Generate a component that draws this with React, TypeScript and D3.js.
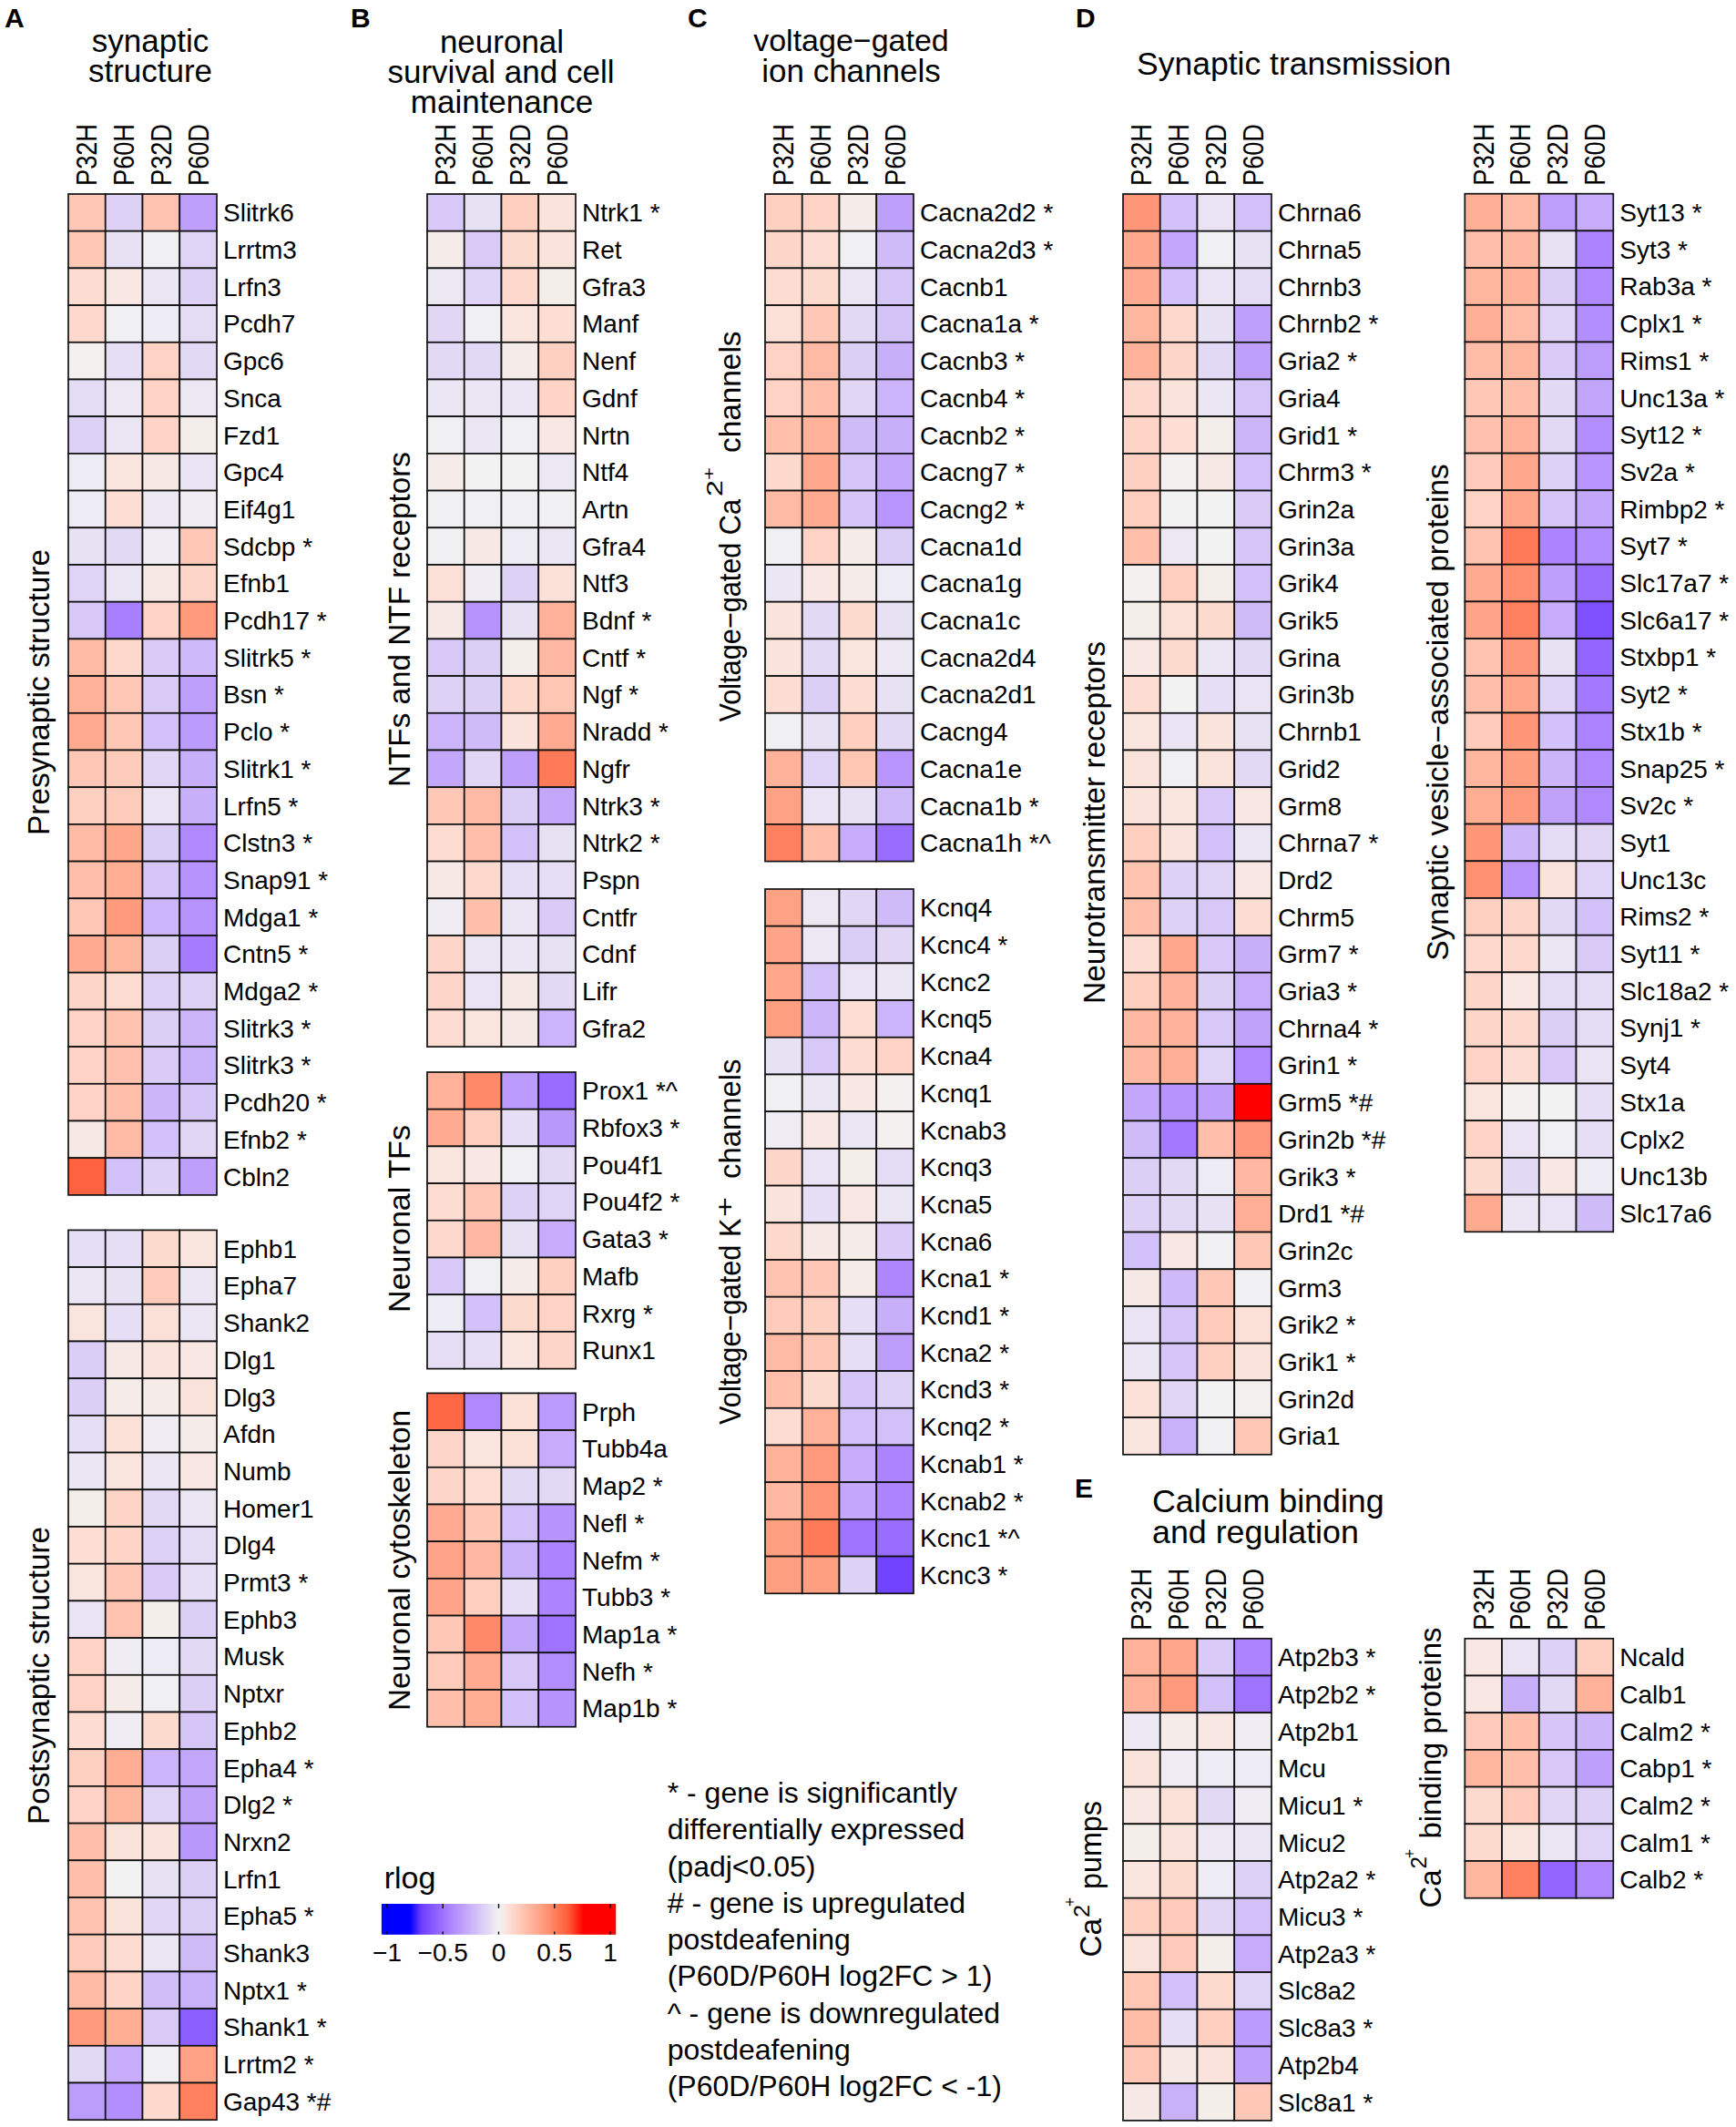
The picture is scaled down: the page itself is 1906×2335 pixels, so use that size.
import { useEffect, useRef } from 'react';
import * as d3 from 'd3';

const columns = ['P32H', 'P60H', 'P32D', 'P60D'];

const presynGenes = ['Slitrk6', 'Lrrtm3', 'Lrfn3', 'Pcdh7', 'Gpc6', 'Snca', 'Fzd1', 'Gpc4', 'Eif4g1', 'Sdcbp *', 'Efnb1', 'Pcdh17 *', 'Slitrk5 *', 'Bsn *', 'Pclo *', 'Slitrk1 *', 'Lrfn5 *', 'Clstn3 *', 'Snap91 *', 'Mdga1 *', 'Cntn5 *', 'Mdga2 *', 'Slitrk3 *', 'Slitrk3 *', 'Pcdh20 *', 'Efnb2 *', 'Cbln2'];
const presynValues = [
    [.2, -.13, .22, -.33], [.2, -.07, -.01, -.12], [.1, .05, -.05, -.13], [.12, -.01, -.03, -.09],
    [.01, -.08, .15, -.1], [-.09, -.04, .15, -.04], [-.13, -.05, .15, .02], [-.03, .06, .04, -.06],
    [-.03, .09, -.04, -.02], [-.07, -.1, -.02, .2], [-.12, -.05, .04, .13], [-.17, -.46, .15, .4],
    [.26, .12, -.16, -.23], [.3, .2, -.16, -.33], [.33, .2, -.2, -.35], [.2, .18, -.11, -.27],
    [.16, .18, -.06, -.27], [.26, .35, -.15, -.42], [.24, .32, -.18, -.38], [.2, .4, -.25, -.38],
    [.33, .28, -.14, -.47], [.13, .1, -.13, -.13], [.15, .22, -.14, -.24], [.15, .23, -.16, -.26],
    [.15, .24, -.24, -.18], [.04, .26, -.2, -.11], [.6, -.2, -.13, -.33]
];

const postsynGenes = ['Ephb1', 'Epha7', 'Shank2', 'Dlg1', 'Dlg3', 'Afdn', 'Numb', 'Homer1', 'Dlg4', 'Prmt3 *', 'Ephb3', 'Musk', 'Nptxr', 'Ephb2', 'Epha4 *', 'Dlg2 *', 'Nrxn2', 'Lrfn1', 'Epha5 *', 'Shank3', 'Nptx1 *', 'Shank1 *', 'Lrrtm2 *', 'Gap43 *#'];
const postsynValues = [
    [-.08, -.08, .11, .06], [-.05, -.07, .18, -.05], [.06, -.08, .08, -.05], [-.15, .04, .07, .05],
    [-.14, .03, .03, .07], [-.08, .08, -.02, .03], [-.05, .06, -.05, .05], [.02, .14, -.1, -.05],
    [.09, .14, -.13, -.09], [.06, .2, -.16, -.08], [-.06, .22, .02, -.14], [.15, -.02, -.03, -.1],
    [.15, .03, -.01, -.14], [.1, -.02, .11, -.18], [.16, .32, -.25, -.3], [.15, .28, -.12, -.32],
    [.24, .07, .07, -.36], [.24, 0, -.07, -.14], [.22, .07, -.11, -.14], [.18, .1, -.05, -.22],
    [.26, .14, -.21, -.26], [.4, .32, -.16, -.58], [-.1, -.28, -.01, .37], [-.34, -.4, .12, .5]
];

const ntfGenes = ['Ntrk1 *', 'Ret', 'Gfra3', 'Manf', 'Nenf', 'Gdnf', 'Nrtn', 'Ntf4', 'Artn', 'Gfra4', 'Ntf3', 'Bdnf *', 'Cntf *', 'Ngf *', 'Nradd *', 'Ngfr', 'Ntrk3 *', 'Ntrk2 *', 'Pspn', 'Cntfr', 'Cdnf', 'Lifr', 'Gfra2'];
const ntfValues = [
    [-.17, -.07, .17, .07], [.03, -.16, .11, .07], [-.04, -.12, .12, .02], [-.11, -.01, .06, .09],
    [-.1, -.1, .03, .16], [-.05, -.05, -.05, .14], [-.01, -.05, -.01, .05], [.03, 0, 0, -.04],
    [-.01, -.01, -.01, -.01], [-.01, .04, -.03, -.05], [.08, -.02, -.13, .08], [.04, -.38, -.07, .3],
    [-.17, -.14, .02, .27], [-.13, -.14, .12, .21], [-.25, -.22, .07, .33], [-.3, -.11, -.33, .52],
    [.2, .26, -.15, -.3], [.1, .24, -.2, -.07], [.04, .12, -.08, -.08], [-.02, .24, -.05, -.16],
    [.13, -.05, -.05, -.07], [.13, -.06, .04, -.1], [.1, .06, .04, -.25]
];

const tfGenes = ['Prox1 *^', 'Rbfox3 *', 'Pou4f1', 'Pou4f2 *', 'Gata3 *', 'Mafb', 'Rxrg *', 'Runx1'];
const tfValues = [
    [.3, .47, -.35, -.53], [.33, .17, -.08, -.36], [.06, .05, -.01, -.1], [.1, .2, -.13, -.12],
    [.12, .27, -.07, -.28], [-.17, -.01, .03, .16], [-.03, -.2, .11, .15], [-.08, -.08, .06, .13]
];

const cytoGenes = ['Prph', 'Tubb4a', 'Map2 *', 'Nefl *', 'Nefm *', 'Tubb3 *', 'Map1a *', 'Nefh *', 'Map1b *'];
const cytoValues = [
    [.58, -.42, .08, -.35], [.13, .06, .08, -.28], [.13, .09, -.1, -.1], [.33, .2, -.2, -.38],
    [.36, .27, -.26, -.44], [.36, .17, -.08, -.44], [.2, .47, -.3, -.5], [.18, .33, -.17, -.4],
    [.24, .32, -.2, -.38]
];

const caGenes = ['Cacna2d2 *', 'Cacna2d3 *', 'Cacnb1', 'Cacna1a *', 'Cacnb3 *', 'Cacnb4 *', 'Cacnb2 *', 'Cacng7 *', 'Cacng2 *', 'Cacna1d', 'Cacna1g', 'Cacna1c', 'Cacna2d4', 'Cacna2d1', 'Cacng4', 'Cacna1e', 'Cacna1b *', 'Cacna1h *^'];
const caValues = [
    [.16, .14, .03, -.33], [.13, .1, -.01, -.22], [.1, .11, -.05, -.18], [.08, .2, -.1, -.19],
    [.15, .26, -.14, -.27], [.15, .24, -.11, -.25], [.24, .3, -.22, -.27], [.12, .34, -.18, -.3],
    [.26, .33, -.18, -.37], [-.01, .15, .03, -.15], [-.05, .05, .03, -.03], [.07, -.1, .11, -.07],
    [.07, -.1, .06, -.04], [.1, -.14, .1, -.07], [-.01, -.07, .17, -.1], [.3, -.12, .21, -.37],
    [.37, -.06, -.07, -.23], [.5, .24, -.28, -.53]
];

const kGenes = ['Kcnq4', 'Kcnc4 *', 'Kcnc2', 'Kcnq5', 'Kcna4', 'Kcnq1', 'Kcnab3', 'Kcnq3', 'Kcna5', 'Kcna6', 'Kcna1 *', 'Kcnd1 *', 'Kcna2 *', 'Kcnd3 *', 'Kcnq2 *', 'Kcnab1 *', 'Kcnab2 *', 'Kcnc1 *^', 'Kcnc3 *'];
const kValues = [
    [.37, -.04, -.11, -.22], [.36, -.04, -.15, -.11], [.35, -.2, -.06, -.05], [.38, -.24, .09, -.25],
    [-.07, -.17, .1, .15], [-.01, -.05, .05, .01], [-.02, .05, -.05, .01], [.13, -.06, .02, -.09],
    [.07, -.08, .05, -.05], [.12, .04, .03, -.16], [.22, .2, .03, -.43], [.18, .16, -.08, -.27],
    [.26, .2, -.08, -.34], [.24, .11, -.18, -.13], [.1, .3, -.2, -.2], [.3, .4, -.28, -.44],
    [.27, .42, -.3, -.44], [.38, .52, -.5, -.53], [.38, .38, -.13, -.68]
];

const receptorGenes = ['Chrna6', 'Chrna5', 'Chrnb3', 'Chrnb2 *', 'Gria2 *', 'Gria4', 'Grid1 *', 'Chrm3 *', 'Grin2a', 'Grin3a', 'Grik4', 'Grik5', 'Grina', 'Grin3b', 'Chrnb1', 'Grid2', 'Grm8', 'Chrna7 *', 'Drd2', 'Chrm5', 'Grm7 *', 'Gria3 *', 'Chrna4 *', 'Grin1 *', 'Grm5 *#', 'Grin2b *#', 'Grik3 *', 'Drd1 *#', 'Grin2c', 'Grm3', 'Grik2 *', 'Grik1 *', 'Grin2d', 'Gria1'];
const receptorValues = [
    [.42, -.2, -.06, -.2], [.34, -.3, -.01, -.07], [.33, -.2, -.06, -.09], [.28, .12, -.07, -.33],
    [.3, .13, -.1, -.33], [.12, .07, -.05, -.18], [.14, .09, .02, -.24], [.16, .01, .04, -.2],
    [.17, 0, 0, -.16], [.24, -.04, 0, -.18], [.01, .17, .02, -.2], [.02, .08, .11, -.22],
    [.05, .11, -.05, -.1], [.1, 0, -.08, -.06], [.06, -.06, .07, -.07], [.07, -.01, .07, -.1],
    [.07, .06, -.17, .05], [.17, .07, -.2, -.05], [.22, -.13, -.12, .05], [.24, -.13, -.17, .1],
    [.1, .34, -.17, -.27], [.17, .29, -.14, -.28], [.27, .29, -.17, -.32], [.27, .31, -.12, -.42],
    [-.3, -.38, -.33, 1], [-.22, -.48, .24, .41], [-.14, -.1, -.03, .27], [-.13, -.1, -.07, .31],
    [-.2, .05, -.01, .2], [.04, -.23, .2, -.01], [-.06, -.18, .18, .08], [-.05, -.18, .16, .07],
    [.08, -.11, 0, .01], [.06, -.26, -.01, .2]
];

const vesicleGenes = ['Syt13 *', 'Syt3 *', 'Rab3a *', 'Cplx1 *', 'Rims1 *', 'Unc13a *', 'Syt12 *', 'Sv2a *', 'Rimbp2 *', 'Syt7 *', 'Slc17a7 *', 'Slc6a17 *', 'Stxbp1 *', 'Syt2 *', 'Stx1b *', 'Snap25 *', 'Sv2c *', 'Syt1', 'Unc13c', 'Rims2 *', 'Syt11 *', 'Slc18a2 *', 'Synj1 *', 'Syt4', 'Stx1a', 'Cplx2', 'Unc13b', 'Slc17a6'];
const vesicleValues = [
    [.31, .26, -.33, -.28], [.24, .27, -.07, -.44], [.28, .3, -.14, -.42], [.31, .25, -.12, -.4],
    [.25, .28, -.16, -.34], [.2, .24, -.1, -.31], [.23, .3, -.1, -.4], [.19, .34, -.13, -.37],
    [.15, .35, -.18, -.3], [.22, .52, -.44, -.4], [.33, .45, -.33, -.52], [.36, .5, -.28, -.63],
    [.22, .41, -.07, -.55], [.24, .35, -.12, -.48], [.18, .42, -.2, -.44], [.28, .38, -.24, -.42],
    [.32, .4, -.32, -.42], [.42, -.24, -.09, -.11], [.44, -.38, .07, -.12], [.16, .13, -.1, -.2],
    [.12, .12, -.05, -.16], [.13, .05, -.09, -.09], [.13, .12, -.14, -.09], [.15, .1, -.17, -.06],
    [.06, .01, 0, -.08], [.14, -.06, -.01, -.08], [.11, -.1, .05, -.03], [.33, -.05, -.06, -.22]
];

const pumpGenes = ['Atp2b3 *', 'Atp2b2 *', 'Atp2b1', 'Mcu', 'Micu1 *', 'Micu2', 'Atp2a2 *', 'Micu3 *', 'Atp2a3 *', 'Slc8a2', 'Slc8a3 *', 'Atp2b4', 'Slc8a1 *'];
const pumpValues = [
    [.3, .35, -.16, -.44], [.3, .4, -.2, -.5], [-.04, .03, .05, -.02], [.07, -.02, -.03, -.03],
    [.05, .08, -.1, -.02], [.02, .07, -.04, -.05], [.06, .11, -.03, -.13], [.17, .19, -.11, -.2],
    [.07, .19, .02, -.28], [.21, -.2, .11, -.12], [.25, -.08, .17, -.35], [.2, .04, .07, -.33],
    [.04, -.26, .02, .2]
];

const bindingGenes = ['Ncald', 'Calb1', 'Calm2 *', 'Cabp1 *', 'Calm2 *', 'Calm1 *', 'Calb2 *'];
const bindingValues = [
    [.05, -.06, -.13, .16], [.05, -.27, -.1, .3], [.19, .24, -.18, -.24], [.28, .24, -.17, -.33],
    [.11, .19, -.11, -.13], [.11, .06, -.05, -.12], [.28, .5, -.55, -.42]
];

const legendTicks = [-1, -0.5, 0, 0.5, 1];
const legendTickLabels = ['\u22121', '\u22120.5', '0', '0.5', '1'];

const notes = [
    '* - gene is significantly',
    'differentially expressed',
    '(padj<0.05)',
    '# - gene is upregulated',
    'postdeafening',
    '(P60D/P60H log2FC > 1)',
    '^ - gene is downregulated',
    'postdeafening',
    '(P60D/P60H log2FC < -1)'
];

const FONT = '"Liberation Sans", Arial, Helvetica, sans-serif';
const ROW = 40.7;

const color: any = d3.scaleLinear<string>()
    .domain([-0.8, -0.7, -0.45, 0, 0.1, 0.2, 0.45, 0.62, 0.76])
    .range(['#0000ff', '#6c3cff', '#ab82ff', '#f2f2f2', '#fddcd1', '#ffc8b6', '#ff8f6e', '#ff5c38', '#ff0000'])
    .clamp(true);

const App = () => {
    const ref = useRef<SVGSVGElement>(null);

    useEffect(() => {
        const svg: any = d3.select(ref.current);
        svg.selectAll('*').remove();

        const heatmap = (genes: string[], values: number[][], left: number, top: number, showColumns = true) => {
            const width = 163;
            const x = d3.scaleBand().domain(columns).range([left, left + width]);
            const y = d3.scaleBand().domain(genes.map((g, i) => i + '')).range([top, top + genes.length * ROW]);
            const g = svg.append('g');

            values.forEach((row, i) => {
                row.forEach((v, j) => {
                    g.append('rect')
                        .attr('x', x(columns[j]))
                        .attr('y', y(i + ''))
                        .attr('width', x.bandwidth())
                        .attr('height', y.bandwidth())
                        .attr('fill', color(v))
                        .attr('stroke', '#111')
                        .attr('stroke-width', 1.7);
                });
            });

            g.selectAll('.gene')
                .data(genes)
                .enter().append('text')
                .attr('x', left + width + 7)
                .attr('y', (d: string, i: number) => (y(i + '') as number) + y.bandwidth() / 2 + 10)
                .attr('font-size', 28)
                .text((d: string) => d);

            if (!showColumns) return;
            columns.forEach(c => {
                g.append('text')
                    .attr('transform', 'translate(' + ((x(c) as number) + x.bandwidth() / 2 + 11) + ',' + (top - 9) + ') rotate(-90)')
                    .attr('font-size', 31.5)
                    .attr('textLength', 68)
                    .attr('lengthAdjust', 'spacingAndGlyphs')
                    .text(c);
            });
        };

        heatmap(presynGenes, presynValues, 75, 213);
        heatmap(postsynGenes, postsynValues, 75, 1350.4, false);
        heatmap(ntfGenes, ntfValues, 469, 213);
        heatmap(tfGenes, tfValues, 469, 1177, false);
        heatmap(cytoGenes, cytoValues, 469, 1529.4, false);
        heatmap(caGenes, caValues, 840, 213);
        heatmap(kGenes, kValues, 840, 976, false);
        heatmap(receptorGenes, receptorValues, 1233, 213);
        heatmap(vesicleGenes, vesicleValues, 1608.3, 212.7);
        heatmap(pumpGenes, pumpValues, 1233, 1798.8);
        heatmap(bindingGenes, bindingValues, 1608.3, 1798.8);

        const label = (text: string, x: number, y: number, size: number, anchor = 'middle', weight = 'normal') => {
            svg.append('text')
                .attr('x', x)
                .attr('y', y)
                .attr('font-size', size)
                .attr('text-anchor', anchor)
                .attr('font-weight', weight)
                .text(text);
        };

        const side = (text: string, x: number, bottom: number, topEnd: number, size = 33) => {
            svg.append('text')
                .attr('transform', 'translate(' + x + ',' + bottom + ') rotate(-90)')
                .attr('font-size', size)
                .attr('textLength', bottom - topEnd)
                .attr('lengthAdjust', 'spacingAndGlyphs')
                .text(text);
        };

        label('A', 5, 29.5, 30, 'start', 'bold');
        label('B', 385, 29.5, 30, 'start', 'bold');
        label('C', 755, 29.5, 30, 'start', 'bold');
        label('D', 1181, 30, 30, 'start', 'bold');
        label('E', 1180, 1643.6, 30, 'start', 'bold');

        label('synaptic', 165, 57, 35);
        label('structure', 165, 90, 35);
        label('neuronal', 551, 58, 35);
        label('survival and cell', 550, 91, 35);
        label('maintenance', 551, 124, 35);
        label('voltage\u2212gated', 934.5, 56, 34);
        label('ion channels', 934.5, 90, 35);
        label('Synaptic transmission', 1248, 82, 35.5, 'start');
        label('Calcium binding', 1265, 1660, 35.8, 'start');
        label('and regulation', 1265, 1694, 35.8, 'start');

        side('Presynaptic structure', 54, 917, 603);
        side('Postsynaptic structure', 54, 2003, 1676);
        side('NTFs and NTF receptors', 450, 864, 496);
        side('Neuronal TFs', 450, 1441, 1235);
        side('Neuronal cytoskeleton', 450, 1878, 1548);
        side('Neurotransmitter receptors', 1213, 1102, 704);
        side('Synaptic vesicle\u2212associated proteins', 1590, 1054.5, 509.4);

        side('Voltage\u2212gated Ca', 813, 792.5, 548);
        side('2', 793, 545, 527, 24);
        side('+', 785, 527, 513, 18);
        side('channels', 813, 497, 363.5);

        side('Voltage\u2212gated K', 813, 1564, 1337.6);
        side('+', 805, 1336, 1314, 28);
        side('channels', 813, 1294, 1162.5);

        side('Ca', 1209, 2148.5, 2106);
        side('2', 1196, 2105, 2091, 24);
        side('+', 1181, 2093, 2083, 18);
        side('pumps', 1209, 2074, 1977);

        side('Ca', 1582, 2094.6, 2052.6);
        side('2', 1566, 2051.5, 2038, 24);
        side('+', 1554, 2040, 2030, 18);
        side('binding proteins', 1582, 2018.6, 1786.6);

        // colour key
        const legendX = d3.scaleLinear().domain([-1, 1]).range([425, 670]);
        const steps = d3.range(-1.05, 1.05, 0.01);
        label('rlog', 421.7, 2072.7, 34, 'start');
        svg.selectAll('.key')
            .data(steps)
            .enter().append('rect')
            .attr('x', (d: number) => legendX(d))
            .attr('y', 2090)
            .attr('width', (d: number) => legendX(Math.min(d + 0.02, 1.05)) - legendX(d))
            .attr('height', 33.6)
            .attr('fill', (d: number) => color(d));
        legendTicks.forEach((t, i) => {
            svg.append('line')
                .attr('x1', legendX(t)).attr('x2', legendX(t))
                .attr('y1', 2090).attr('y2', 2095)
                .attr('stroke', '#000').attr('stroke-width', 1.4);
            svg.append('line')
                .attr('x1', legendX(t)).attr('x2', legendX(t))
                .attr('y1', 2120.5).attr('y2', 2123.6)
                .attr('stroke', '#000').attr('stroke-width', 1.4);
            label(legendTickLabels[i], legendX(t), 2153, 28);
        });

        // footnotes
        const noteY = d3.scaleLinear().domain([0, notes.length - 1]).range([1979, 2301]);
        notes.forEach((n, i) => label(n, 732.7, noteY(i), 32, 'start'));
    }, []);

    return (
        <svg
            ref={ref}
            width={1906}
            height={2335}
            style={{ position: 'absolute', left: 0, top: 0, display: 'block', background: '#fff', fontFamily: FONT }}
        />
    );
};

export default App;
